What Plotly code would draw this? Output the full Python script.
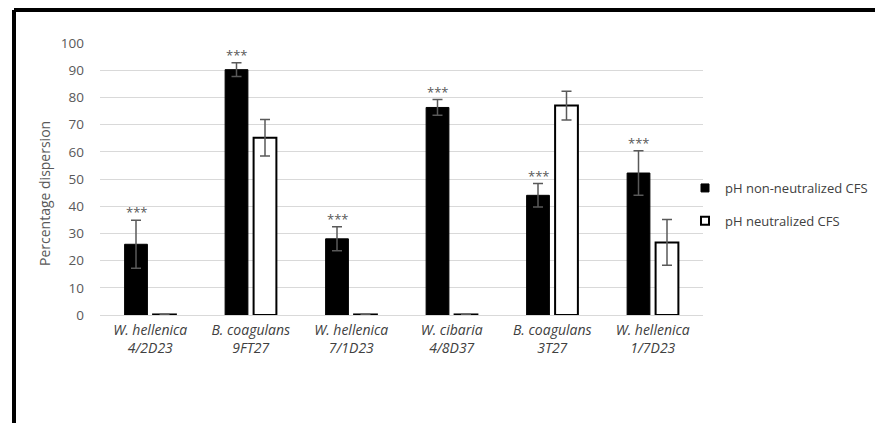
import plotly.graph_objects as go

strains = ["W. hellenica", "B. coagulans", "W. hellenica", "W. cibaria", "B. coagulans", "W. hellenica"]
codes = ["4/2D23", "9FT27", "7/1D23", "4/8D37", "3T27", "1/7D23"]
non_neutral = [26.0, 90.2, 28.0, 76.3, 44.0, 52.2]
non_neutral_err = [8.8, 2.5, 4.4, 2.9, 4.3, 8.2]
neutral = [0.2, 65.2, 0.2, 0.2, 77.0, 26.7]
neutral_err = [None, 6.7, None, None, 5.3, 8.4]
significance = ["***", "***", "***", "***", "***", "***"]
y_ticks = [0, 10, 20, 30, 40, 50, 60, 70, 80, 90, 100]

cats = [f"<i>{s}<br>{c}</i>" for s, c in zip(strains, codes)]

FONT = "Open Sans"
PL, PR, PT, PB = 100, 703, 43, 315  # plot area in screen px


def px(x):
    return (x - PL) / (PR - PL)


def py(y):
    return (PB - y) / (PB - PT)


err_style = dict(type="data", visible=True, color="#595959", thickness=1.5, width=5)

fig = go.Figure()
fig.add_trace(go.Bar(
    x=cats, y=non_neutral, name="pH non-neutralized CFS", showlegend=False,
    marker=dict(color="black", line=dict(color="black", width=1)),
    error_y=dict(array=non_neutral_err, **err_style),
))
fig.add_trace(go.Bar(
    x=cats, y=neutral, name="pH neutralized CFS", showlegend=False,
    marker=dict(color="white", line=dict(color="black", width=2)),
    error_y=dict(array=neutral_err, **err_style),
))
fig.add_trace(go.Scatter(x=[None], y=[None], mode="markers", name="pH non-neutralized CFS",
                         legendgroup="a",
                         marker=dict(symbol="square", size=8, color="black", line=dict(color="black", width=1))))
fig.add_trace(go.Scatter(x=[None], y=[None], mode="markers", name="pH neutralized CFS",
                         legendgroup="b",
                         marker=dict(symbol="square", size=8, color="white", line=dict(color="black", width=2))))

for c, v, e, s in zip(cats, non_neutral, non_neutral_err, significance):
    fig.add_annotation(x=c, y=v + e, text=s, showarrow=False, xshift=-14.25, yshift=-3,
                       yanchor="bottom", font=dict(family=FONT, size=13, color="#595959"))

fig.add_annotation(xref="paper", yref="paper", x=px(44), y=py(194), xanchor="center", yanchor="middle",
                   text="Percentage dispersion", textangle=-90, showarrow=False,
                   font=dict(family=FONT, size=14, color="#595959"))

fx, fy = px(14), py(10)
fig.add_shape(type="line", xref="paper", yref="paper", x0=fx, y0=fy, x1=1.35, y1=fy,
              line=dict(color="black", width=4))
fig.add_shape(type="line", xref="paper", yref="paper", x0=fx, y0=fy, x1=fx, y1=-0.5,
              line=dict(color="black", width=4))

fig.update_layout(
    width=875, height=423,
    margin=dict(l=PL, r=875 - PR, t=PT, b=423 - PB, autoexpand=False),
    plot_bgcolor="white", paper_bgcolor="white",
    barmode="group", bargap=0.433, bargroupgap=0.2,
    font=dict(family=FONT, size=13, color="#404040"),
    legend=dict(x=px(685), y=py(173), xanchor="left", yanchor="top",
                font=dict(family=FONT, size=13, color="#404040"), tracegroupgap=13,
                traceorder="grouped", bgcolor="rgba(0,0,0,0)"),
    showlegend=True,
)
fig.update_xaxes(showgrid=False, showline=False, ticks="", ticklabelstandoff=5,
                 tickfont=dict(family=FONT, size=14, color="#404040"))
fig.update_yaxes(range=[0, 100], tickvals=y_ticks, showgrid=True, gridcolor="#d9d9d9", gridwidth=1.3,
                 zeroline=True, zerolinecolor="#d9d9d9", zerolinewidth=1.3, showline=False,
                 ticks="", ticklabelstandoff=15,
                 tickfont=dict(family=FONT, size=13.5, color="#595959"))

fig.write_html("out.html", config={"displayModeBar": False},
               post_script="document.body.style.margin='0';")
